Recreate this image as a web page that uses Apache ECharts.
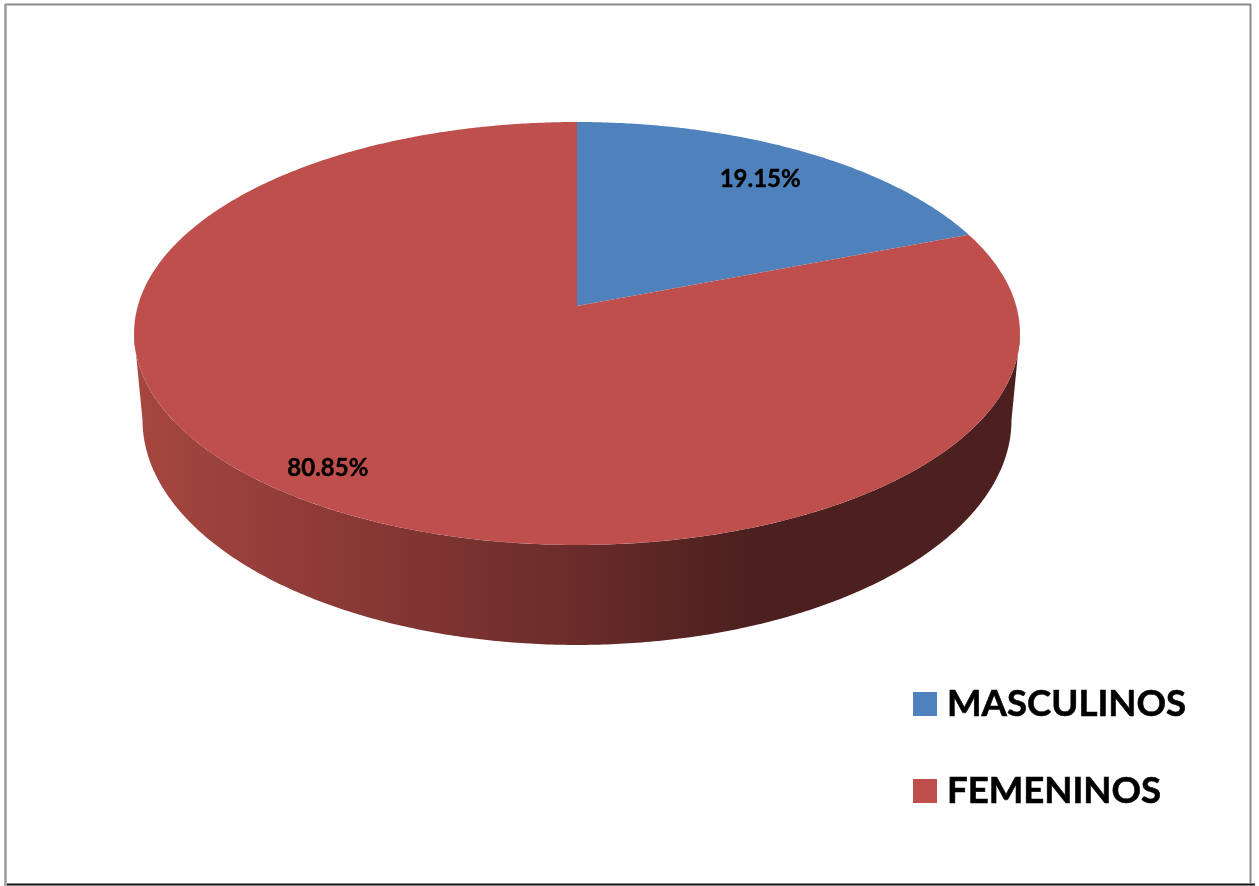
<!DOCTYPE html>
<html>
<head>
<meta charset="utf-8">
<title>Pie</title>
<script src="https://cdn.jsdelivr.net/npm/echarts@6/dist/echarts.min.js"></script>
<style>
    html, body { margin: 0; padding: 0; background: #fff; }
    #chart { width: 1259px; height: 886px; }
</style>
</head>
<body>
<div id="chart"></div>
<script>
// datos
var categories = ['MASCULINOS', 'FEMENINOS'];
var values = [19.15, 80.85];
var colors = ['#4F81BD', '#BE4F4C'];

// perspectiva del disco: superior e inferior
var topFace = { cx: 577, cy: 306, a: 439.2, b: 207.9, k: 0.13 };
var bottomFace = { cx: 577, cy: 390.7, a: 430.8, b: 221.2, k: 0.13 };
// etiqueta: fraccion del radio y giro respecto al centro de la porcion
var labelPlace = [{ r: 0.8, turn: 0 }, { r: 0.875, turn: 1.6 }];

var total = values.reduce(function (s, v) { return s + v; }, 0);

function project(face, deg, r) {
    var rad = deg * Math.PI / 180;
    var u = Math.sin(rad) * r;
    var v = Math.cos(rad) * r;
    var w = 1 + face.k * v;
    return [face.cx + face.a * u / w, face.cy - face.b * v / w];
}

function arc(face, from, to) {
    var pts = [];
    var n = Math.ceil(Math.abs(to - from) * 2);
    for (var i = 0; i <= n; i++) {
        pts.push(project(face, from + (to - from) * i / n, 1));
    }
    return pts;
}

// angulos donde la silueta es tangente (lado derecho e izquierdo)
function tangent(face) {
    var right = 90, best = -1;
    for (var d = 0; d <= 180; d += 0.5) {
        var x = project(face, d, 1)[0];
        if (x > best) { best = x; right = d; }
    }
    return [right, 360 - right];
}

function renderSlice(index, params, api) {
    var before = 0;
    for (var i = 0; i < index; i++) before += values[i];
    var start = before / total * 360;
    var sweep = api.value(0) / total * 360;
    var end = start + sweep;
    var children = [];

    // pared lateral, solo lo que queda al frente
    var tan = tangent(topFace);
    var tanB = tangent(bottomFace);
    var from = Math.max(start, tan[0]);
    var to = Math.min(end, tan[1]);
    if (to > from) {
        var wall = arc(topFace, from, to).concat(arc(bottomFace, Math.min(end, tanB[1]), Math.max(start, tanB[0])));
        children.push({
            type: 'polygon',
            shape: { points: wall },
            style: {
                fill: new echarts.graphic.LinearGradient(0, 0, 1, 0, [
                    { offset: 0, color: '#A6473F' },
                    { offset: 0.2, color: '#8F3B38' },
                    { offset: 0.5, color: '#6A2C2A' },
                    { offset: 0.695, color: '#4B201F' },
                    { offset: 1, color: '#4B201F' }
                ])
            }
        });
    }

    // cara superior
    var pts = [project(topFace, 0, 0)].concat(arc(topFace, start, end));
    children.push({
        type: 'polygon',
        shape: { points: pts },
        style: { fill: colors[index] }
    });

    // etiqueta
    var place = labelPlace[index];
    var pos = project(topFace, start + sweep / 2 + place.turn, place.r);
    children.push({
        type: 'text',
        x: pos[0],
        y: pos[1],
        z2: 10,
        style: {
            text: api.value(0).toFixed(2) + '%',
            fill: '#000',
            stroke: '#000',
            lineWidth: 0.4,
            font: 'bold 24px Lato',
            align: 'center',
            verticalAlign: 'middle'
        }
    });
    return { type: 'group', children: children };
}

var myChart = echarts.init(document.getElementById('chart'));
myChart.setOption({
    animation: false,
    backgroundColor: '#fff',
    legend: {
        orient: 'vertical',
        left: 913,
        top: 682,
        padding: 0,
        icon: 'rect',
        itemWidth: 24,
        itemHeight: 24,
        itemGap: 43,
        selectedMode: false,
        data: categories,
        textStyle: {
            color: '#000',
            fontFamily: 'Lato',
            fontWeight: 'bold',
            fontSize: 36.6,
            textBorderColor: '#000',
            textBorderWidth: 0.6,
            padding: [0, 0, 0, 5],
            lineHeight: 44
        }
    },
    graphic: [
        { type: 'line', silent: true, shape: { x1: 7, y1: 884.5, x2: 1255, y2: 884.5 }, style: { stroke: '#111', lineWidth: 2 } },
        { type: 'line', silent: true, shape: { x1: 5, y1: 4.5, x2: 1251, y2: 4.5 }, style: { stroke: '#8A8A8A', lineWidth: 2 } },
        { type: 'line', silent: true, shape: { x1: 5.5, y1: 4, x2: 5.5, y2: 886 }, style: { stroke: '#9A9A9A', lineWidth: 2.5 } },
        { type: 'line', silent: true, shape: { x1: 1250.5, y1: 4, x2: 1250.5, y2: 884 }, style: { stroke: '#8A8A8A', lineWidth: 2 } }
    ],
    series: categories.map(function (name, i) {
        return {
            type: 'custom',
            name: name,
            coordinateSystem: 'none',
            itemStyle: { color: colors[i] },
            renderItem: function (params, api) { return renderSlice(i, params, api); },
            data: [[values[i]]]
        };
    })
});
</script>
</body>
</html>
